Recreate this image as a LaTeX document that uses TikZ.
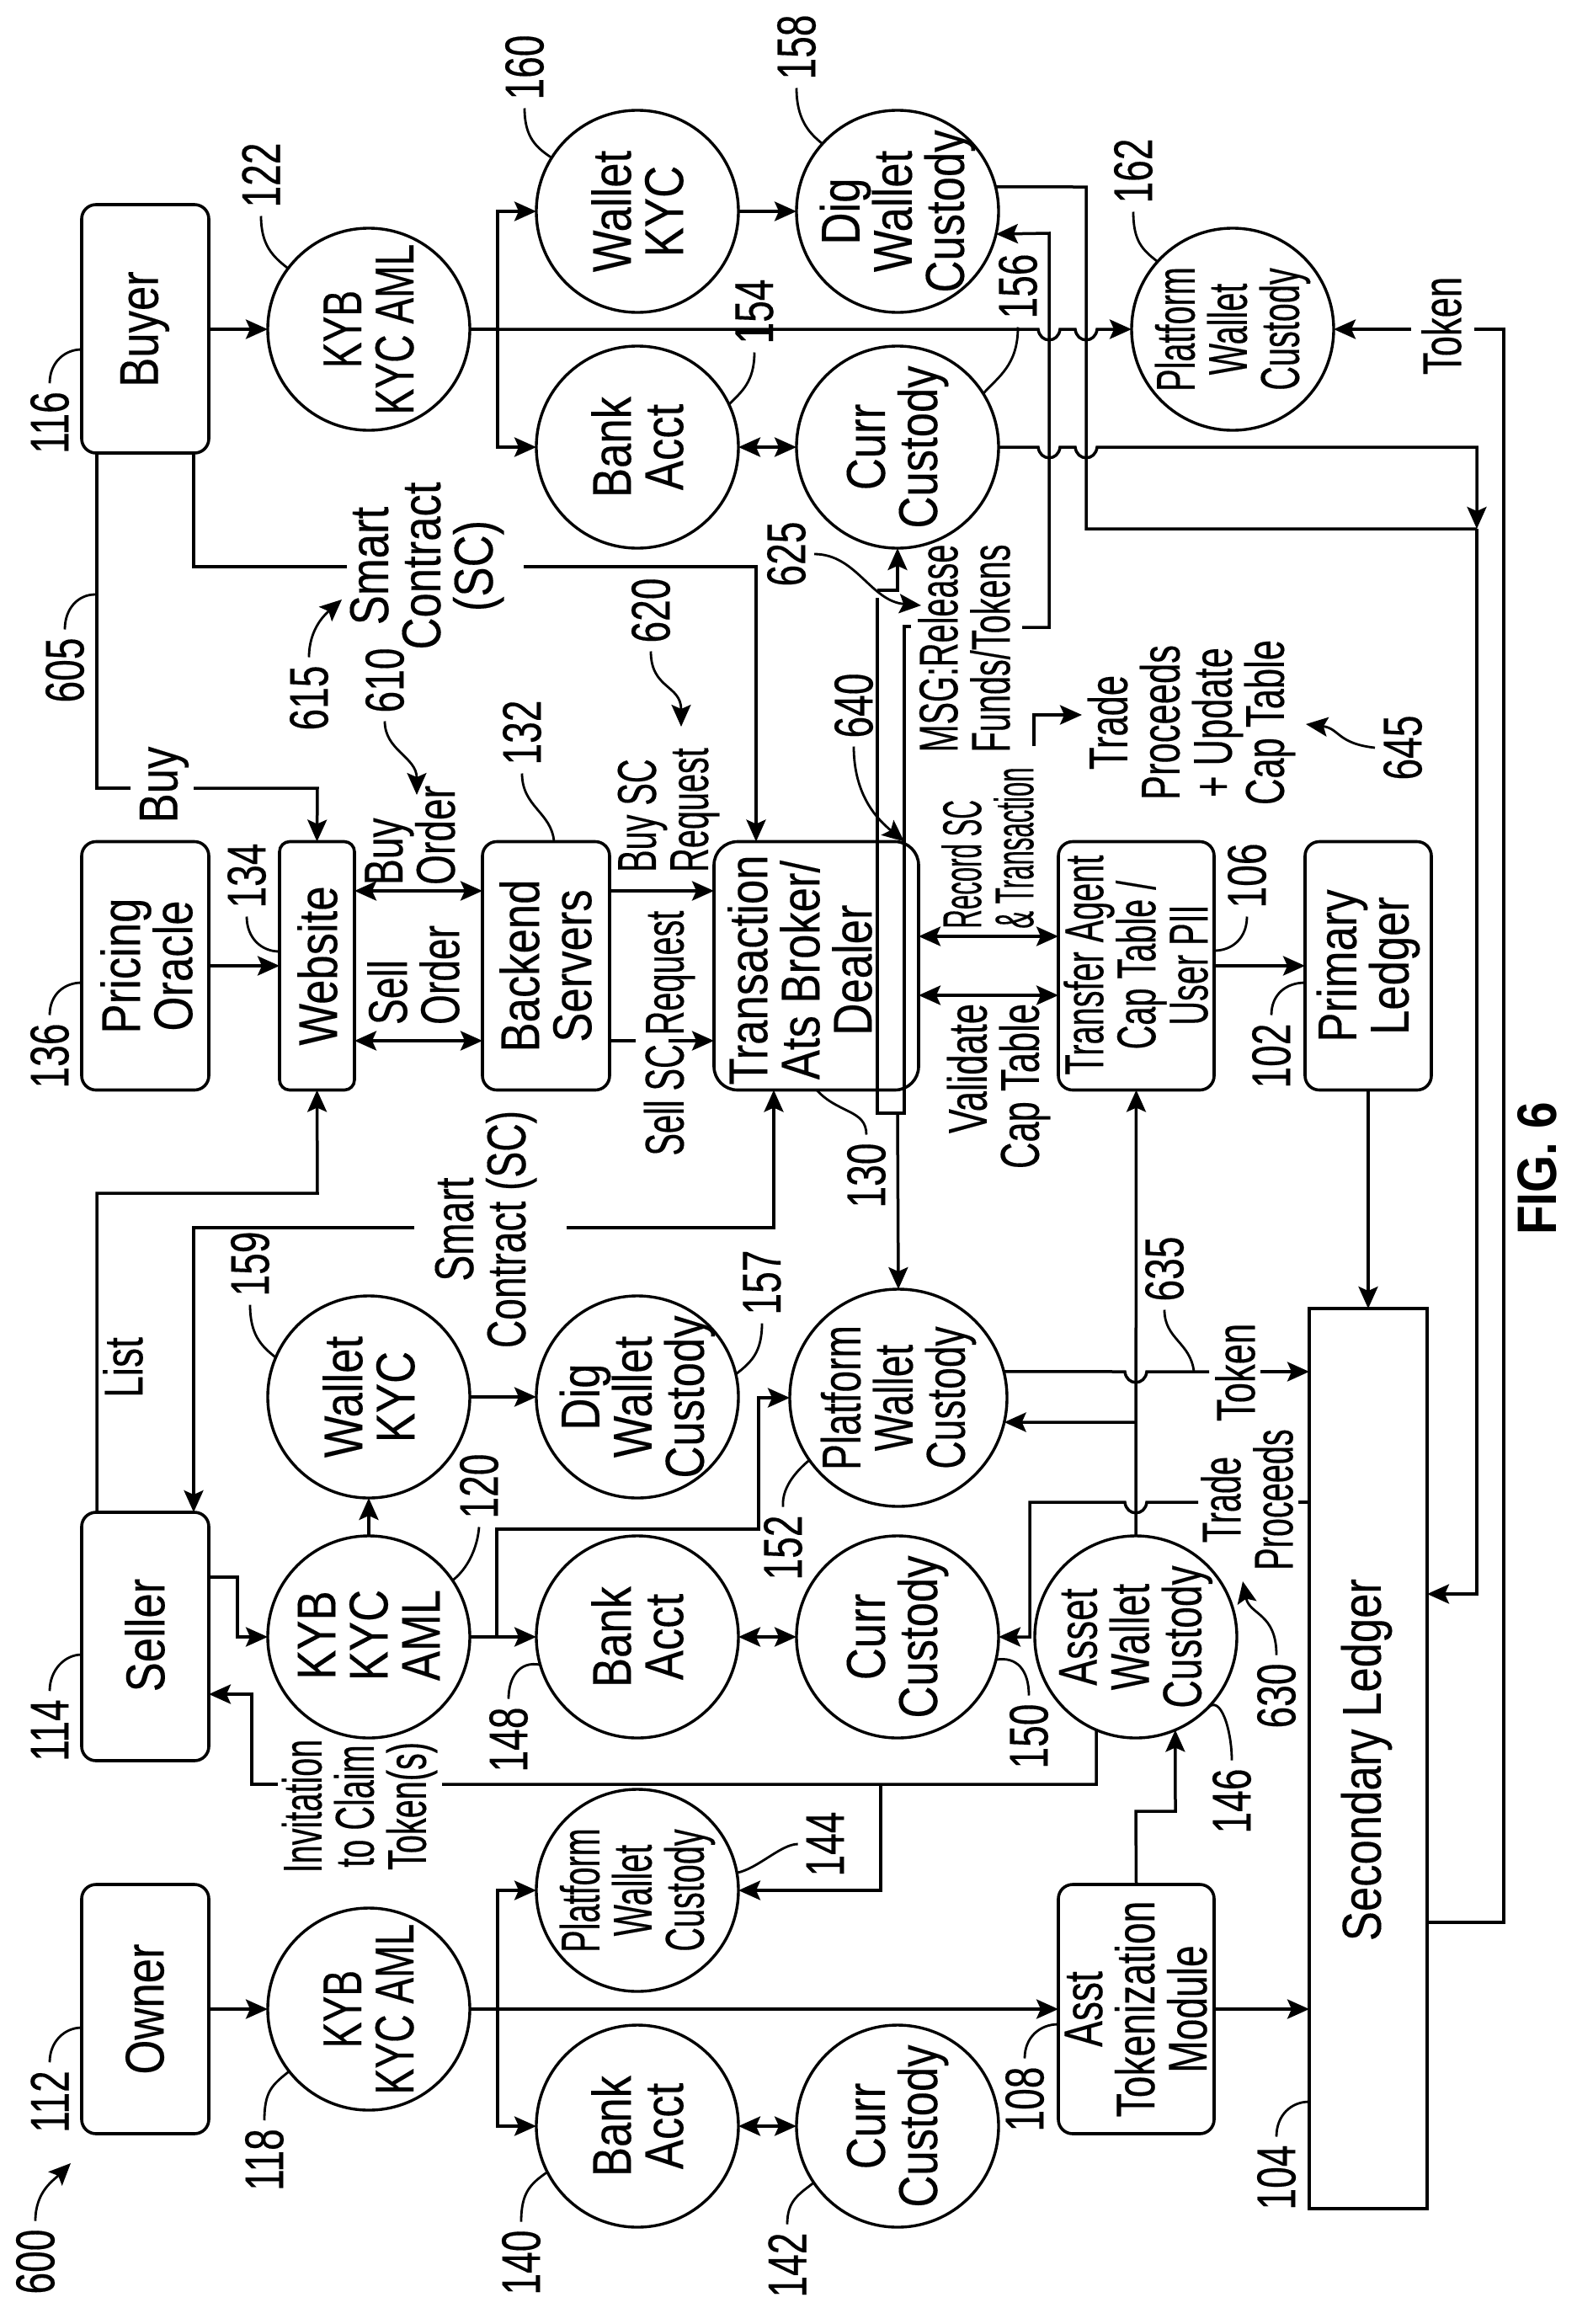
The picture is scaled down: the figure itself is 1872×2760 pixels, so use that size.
\documentclass[tikz,border=0pt]{standalone}
\usepackage{fontspec}
\usetikzlibrary{arrows.meta}
\setmainfont{Liberation Sans}
\newfontfamily\Fa[FakeStretch=0.81,FakeBold=0.25]{Liberation Sans}
\newfontfamily\Fb[FakeStretch=0.71,FakeBold=0.25]{Liberation Sans}
\newfontfamily\Fe[FakeStretch=0.67,FakeBold=0.25]{Liberation Sans}
\newfontfamily\Fc[FakeStretch=0.61,FakeBold=0.25]{Liberation Sans}
\newfontfamily\Fd[FakeStretch=0.48,FakeBold=0.25]{Liberation Sans}
\newfontfamily\Ff[FakeStretch=0.86]{Liberation Sans}
\newcommand{\jr}[2]{-- ({#1-13},#2) .. controls ({#1-11},{#2+17}) and ({#1+11},{#2+17}) .. ({#1+13},#2)}
\newcommand{\jl}[2]{-- ({#1+13},#2) .. controls ({#1+11},{#2+17}) and ({#1-11},{#2+17}) .. ({#1-13},#2)}
\tikzset{
  x=1pt,y=-1pt,
  lnk/.style={line width=3.5pt,line join=miter},
  arr/.style={lnk,-{Stealth[length=26pt,width=23pt,inset=5pt]}},
  darr/.style={lnk,{Stealth[length=26pt,width=23pt,inset=5pt]}-{Stealth[length=26pt,width=23pt,inset=5pt]}},
  lead/.style={line width=2.8pt},
  leadarr/.style={line width=2.8pt,-{Stealth[length=26pt,width=23pt,inset=5pt]}},
  circ/.style={draw,circle,line width=3.4pt,minimum size=240pt,inner sep=0pt,outer sep=0pt},
  rbox/.style={draw,rounded corners=17pt,line width=3.6pt,inner sep=0pt,outer sep=0pt},
  sbox/.style={draw,line width=3.6pt,inner sep=0pt,outer sep=0pt},
  txt/.style={rotate=90,align=center,inner sep=0pt,outer sep=0pt},
  ta/.style={txt,font={\Fa\fontsize{65}{62}\selectfont}},
  tb/.style={txt,font={\Fb\fontsize{65}{62}\selectfont}},
  te/.style={txt,font={\Fe\fontsize{65}{62}\selectfont}},
  tc/.style={txt,font={\Fc\fontsize{65}{62}\selectfont}},
  td/.style={txt,font={\Fd\fontsize{65}{62}\selectfont}},
  num/.style={rotate=90,inner sep=10pt,outer sep=0pt,font={\Fb\fontsize{65}{62}\selectfont}},
}
\begin{document}
\begin{tikzpicture}
\useasboundingbox (0,0) rectangle (1872,2760);
\fill[white] (0,0) rectangle (1872,2760);
% boxes
\node[rbox,minimum width=151pt,minimum height=295pt] (buy) at (172.5,390.5) {};
\node[rbox,minimum width=151pt,minimum height=295pt] (prc) at (172.5,1147) {};
\node[rbox,minimum width=151pt,minimum height=295pt] (sel) at (172.5,1943.5) {};
\node[rbox,minimum width=151pt,minimum height=296pt] (own) at (172.5,2386) {};
\node[rbox,rounded corners=12pt,minimum width=89pt,minimum height=295pt] (web) at (376.5,1147) {};
\node[rbox,minimum width=151pt,minimum height=295pt] (be) at (648.5,1147) {};
\node[rbox,rounded corners=28pt,minimum width=243pt,minimum height=295pt] (tx) at (969.5,1147) {};
\node[rbox,minimum width=185pt,minimum height=295pt] (ta) at (1349.5,1147) {};
\node[rbox,minimum width=150pt,minimum height=295pt] (pl) at (1625,1147) {};
\node[rbox,minimum width=185pt,minimum height=296pt] (at) at (1349.5,2386) {};
\node[sbox,minimum width=140pt,minimum height=1069pt] (sec) at (1625,2088.5) {};
% circles
\node[circ] (k122) at (438,391) {};
\node[circ] (w160) at (757,251) {};
\node[circ] (b154) at (757,531) {};
\node[circ] (d158) at (1066,251) {};
\node[circ] (c156) at (1066,531) {};
\node[circ] (p162) at (1464,391) {};
\node[circ] (w159) at (438,1659) {};
\node[circ] (d157) at (757,1659) {};
\node[circ,minimum size=258pt] (p152) at (1067,1660) {};
\node[circ] (k120) at (438,1944) {};
\node[circ] (b148) at (757,1944) {};
\node[circ] (c150) at (1066,1944) {};
\node[circ] (a146) at (1349,1944) {};
\node[circ] (k118) at (438,2386) {};
\node[circ] (p144) at (757,2245) {};
\node[circ] (b140) at (757,2525) {};
\node[circ] (c142) at (1066,2525) {};
% node texts
\node[ta] (tbuy) at (172,391) {Buyer};
\node[ta] (tprc) at (174,1147) {Pricing\\Oracle};
\node[ta] (tsel) at (172,1942) {Seller};
\node[ta] (town) at (172,2386) {Owner};
\node[ta] (tweb) at (377,1147) {Website};
\node[ta] (tbe) at (648,1147) {Backend\\Servers};
\node[ta] (ttx) at (950,1152) {Transaction\\Ats Broker/\\Dealer};
\node[tc] (tta) at (1349,1146) {Transfer Agent\\Cap Table /\\User PII};
\node[ta] (tpl) at (1625,1147) {Primary\\Ledger};
\node[tb] (tat) at (1349,2386) {Asst\\Tokenization\\Module};
\node[ta] (tsec) at (1623,2090) {Secondary Ledger};
\node[tb] (t122) at (438,391) {KYB\\KYC AML};
\node[ta] (t160) at (757,251) {Wallet\\KYC};
\node[ta] (t154) at (757,531) {Bank\\Acct};
\node[ta] (t158) at (1066,251) {Dig\\Wallet\\Custody};
\node[ta] (t156) at (1066,531) {Curr\\Custody};
\node[tc] (t162) at (1464,391) {Platform\\Wallet\\Custody};
\node[ta] (t159) at (438,1659) {Wallet\\KYC};
\node[ta] (t157) at (757,1659) {Dig\\Wallet\\Custody};
\node[tb] (t152) at (1067,1660) {Platform\\Wallet\\Custody};
\node[ta] (t120) at (438,1942) {KYB\\KYC\\AML};
\node[ta] (t148) at (757,1944) {Bank\\Acct};
\node[ta] (t150) at (1066,1944) {Curr\\Custody};
\node[tb] (t146) at (1349,1944) {Asset\\Wallet\\Custody};
\node[tb] (t118) at (438,2386) {KYB\\KYC AML};
\node[tc] (t144) at (757,2245) {Platform\\Wallet\\Custody};
\node[ta] (t140) at (757,2525) {Bank\\Acct};
\node[ta] (t142) at (1066,2525) {Curr\\Custody};
% connector labels
\node[ta] (lsc1) at (507,672) {Smart\\Contract\\(SC)};
\node[ta] (lbuy) at (195,932) {Buy};
\node[tb,align=left] (lbo) at (487,992) {Buy\\Order};
\node[tb,align=left] (lso) at (491,1158) {Sell\\Order};
\node[tc,align=left] (lbsr) at (794,962) {Buy SC\\Request};
\node[tc] (lssr) at (795,1227) {Sell SC Request};
\node[tb] (lsc2) at (577,1460) {Smart\\Contract (SC)};
\node[tb] (llist) at (146,1624) {List};
\node[tc] (linv) at (427,2145) {Invitation\\to Claim\\Token(s)};
\node[td,align=left] (lrec) at (1173,1007) {Record SC\\\& Transaction};
\node[te,align=right] (lval) at (1186,1290) {Validate\\Cap Table};
\node[tc] (lmsg) at (1145,770) {MSG:Release\\Funds/Tokens};
\node[te] (ltpu) at (1415,858) {Trade\\Proceeds\\+ Update\\Cap Table};
\node[te] (ltok1) at (1712,387) {Token};
\node[te] (ltok2) at (1467,1630) {Token};
\node[tc] (ltp) at (1481,1781) {Trade\\Proceeds};
\node[rotate=90,inner sep=0pt,font={\Ff\bfseries\fontsize{66}{63}\selectfont}] (fig) at (1826,1388) {FIG. 6};
% reference numbers
\node[num] (n600) at (42,2686) {600};
\node[num] (n112) at (59,2496) {112};
\node[num] (n118) at (314,2565) {118};
\node[num] (n114) at (59,2055) {114};
\node[num] (n148) at (604,2066) {148};
\node[num] (n140) at (619,2687) {140};
\node[num] (n142) at (935,2690) {142};
\node[num] (n144) at (980,2190) {144};
\node[num] (n150) at (1222,2062) {150};
\node[num] (n146) at (1463,2139) {146};
\node[num] (n630) at (1516,2014) {630};
\node[num] (n108) at (1217,2493) {108};
\node[num] (n104) at (1516,2586) {104};
\node[num] (n130) at (1029,1396) {130};
\node[num] (n635) at (1383,1507) {635};
\node[num] (n102) at (1510,1254) {102};
\node[num] (n106) at (1481,1040) {106};
\node[num] (n645) at (1666,888) {645};
\node[num] (n640) at (1014,838) {640};
\node[num] (n625) at (934,658) {625};
\node[num] (n620) at (773,725) {620};
\node[num] (n615) at (367,829) {615};
\node[num] (n610) at (457,808) {610};
\node[num] (n605) at (77,796) {605};
\node[num] (n116) at (59,502) {116};
\node[num] (n122) at (310,208) {122};
\node[num] (n160) at (623,80) {160};
\node[num] (n154) at (896,370) {154};
\node[num] (n158) at (946,56) {158};
\node[num] (n156) at (1209,340) {156};
\node[num] (n162) at (1346,203) {162};
\node[num] (n136) at (59,1254) {136};
\node[num] (n134) at (293,1040) {134};
\node[num] (n132) at (620,870) {132};
\node[num] (n159) at (297,1501) {159};
\node[num] (n157) at (905,1523) {157};
\node[num] (n120) at (569,1765) {120};
\node[num] (n152) at (930,1838) {152};
% named junctions and free ends
\coordinate (j122) at (591,391);
\coordinate (j118) at (591,2386);
\coordinate (j120) at (590,1944);
\coordinate (jled) at (1754,628);
\coordinate (j635) at (1349,1689);
\coordinate (jinv) at (1046,2119);
\coordinate (f600) at (84,2569);
\coordinate (f605) at (113,706);
\coordinate (f615) at (406,712);
\coordinate (f610) at (495,944);
\coordinate (f620) at (809,863);
\coordinate (f625) at (1094,719);
\coordinate (f630) at (1476,1878);
\coordinate (f635) at (1418,1629);
\coordinate (f645) at (1551,860);
\coordinate (ftr) at (1228,886);
\coordinate (fmsg) at (1214,745);
\coordinate (ftop) at (1042,701);
\coordinate (fbot) at (1066,1322);
% buyer side
\draw[arr] (buy.east |- k122.west) -- (k122.west);
\draw[lnk] (k122.east) -- (j122);
\draw[arr] (j122) -- (591,251) -- (w160.west);
\draw[arr] (j122) -- (591,531) -- (b154.west);
\draw[arr] (w160.east) -- (d158.west);
\draw[darr] (b154.east) -- (c156.west);
\draw[arr] (j122) \jr{1246}{391} \jr{1290}{391} -- (p162.west);
\draw[arr] (c156.east) \jr{1246}{531} \jr{1290}{531} -- (1754,531) -- (jled);
\draw[lnk] (d158.14) -- (1290,222) -- (1290,628) -- (jled);
\draw[arr] (jled) -- (1754,1893) -- (sec.east |- 0,1893);
\draw[arr] (fmsg) -- (1246,745) -- (1246,277) -- (d158.-13);
\draw[lnk] (1082,744) -- (1074,744) -- (1074,1322) -- (1042,1322) -- (1042,710);
\draw[arr] (ftop) -- (1066,701) -- (c156.south);
\draw[arr] (fbot) -- (p152.north);
\draw[lnk] (sec.east |- 0,2283) -- (1786,2283) -- (1786,391) -- (1751,391);
\draw[arr] (1676,391) -- (p162.east);
\draw[lnk] (buy.south -| 115,0) -- (115,936) -- (155,936);
\draw[arr] (230,936) -- (377,936) -- (web.north);
\draw[lnk] (buy.south -| 230,0) -- (230,673) -- (412,673);
\draw[arr] (622,673) -- (898,673) -- (tx.north -| 898,0);
\draw[arr] (prc.east) -- (web.west);
\draw[darr] (web.east |- 0,1058) -- (be.west |- 0,1058);
\draw[darr] (web.east |- 0,1236) -- (be.west |- 0,1236);
\draw[arr] (be.east |- 0,1058) -- (tx.west |- 0,1058);
\draw[lnk] (be.east |- 0,1236) -- (755,1236);
\draw[arr] (794,1236) -- (tx.west |- 0,1236);
\draw[darr] (tx.east |- 0,1112) -- (ta.west |- 0,1112);
\draw[darr] (tx.east |- 0,1182) -- (ta.west |- 0,1182);
\draw[arr] (ta.east) -- (pl.west);
\draw[arr] (pl.south) -- (sec.north -| pl.south);
\draw[arr] (ftr) -- (1228,849) -- (1285,849);
% seller side
\draw[arr] (sel.north -| 115,0) -- (115,1417) -- (377,1417) -- (web.south);
\draw[arr] (673,1458) -- (919,1458) -- (tx.south -| 919,0);
\draw[arr] (492,1458) -- (230,1458) -- (sel.north -| 230,0);
\draw[arr] (k120.north) -- (w159.south);
\draw[arr] (w159.east) -- (d157.west);
\draw[arr] (sel.east |- 0,1873) -- (282,1873) -- (282,1944) -- (k120.west);
\draw[arr] (k120.east) -- (b148.west);
\draw[arr] (j120) -- (590,1816) -- (901,1816) -- (901,1660) -- (p152.west);
\draw[darr] (b148.east) -- (c150.west);
\draw[arr] (a146.north) -- (ta.south);
\draw[arr] (j635) -- (p152.-13);
\draw[lnk] (p152.14) \jr{1349}{1629} -- (1436,1629);
\draw[arr] (1497,1629) -- (sec.west |- 0,1629);
\draw[lnk] (sec.west |- 0,1784) -- (1542,1784);
\draw[arr] (1423,1784) \jl{1349}{1784} -- (1223,1784) -- (1223,1944) -- (c150.east);
\draw[lnk] (a146.-113) -- (1302,2119) -- (525,2119);
\draw[arr] (330,2119) -- (299,2119) -- (299,2012) -- (sel.east |- 0,2012);
\draw[arr] (jinv) -- (1046,2245) -- (p144.east);
% owner side
\draw[arr] (own.east) -- (k118.west);
\draw[arr] (k118.east) -- (at.west);
\draw[arr] (j118) -- (591,2245) -- (p144.west);
\draw[arr] (j118) -- (591,2525) -- (b140.west);
\draw[darr] (b140.east) -- (c142.west);
\draw[arr] (at.east) -- (sec.west |- at.east);
\draw[arr] (at.north) -- (1349,2151) -- (1396,2151) -- (a146.-67);
% leaders
\draw[leadarr] (n600.east) .. controls +(0,-35) and +(-20,20) .. (f600);
\draw[lead] (n112.east) .. controls +(0,-25) and +(-20,0) .. (own.west |- 0,2408);
\draw[lead] (n114.east) .. controls +(0,-25) and +(-20,0) .. (sel.west |- 0,1965);
\draw[lead] (n116.east) .. controls +(0,-25) and +(-20,0) .. (buy.west |- 0,415);
\draw[lead] (n136.east) .. controls +(0,-25) and +(-20,0) .. (prc.west |- 0,1167);
\draw[lead] (n605.east) .. controls +(0,-25) and +(-20,0) .. (f605);
\draw[lead] (n122.west) .. controls +(0,35) and +(-18,-14) .. (k122.143);
\draw[lead] (n160.west) .. controls +(0,35) and +(-18,-12) .. (w160.148);
\draw[lead] (n154.west) .. controls +(0,35) and +(15,-15) .. (b154.25);
\draw[lead] (n158.west) .. controls +(0,35) and +(-18,-14) .. (d158.138);
\draw[lead] (n156.west) .. controls +(0,45) and +(18,-20) .. (c156.32);
\draw[lead] (n162.west) .. controls +(0,35) and +(-18,-14) .. (p162.138);
\draw[lead] (n134.west) .. controls +(0,25) and +(-22,0) .. (web.west |- 0,1130);
\draw[lead] (n132.west) .. controls +(0,40) and +(-3,-35) .. (be.north -| 658,0);
\draw[lead] (n159.west) .. controls +(0,35) and +(-18,-14) .. (w159.157);
\draw[lead] (n157.west) .. controls +(0,35) and +(18,-14) .. (d157.13);
\draw[lead] (n120.west) .. controls +(-2,25) and +(18,-14) .. (k120.34);
\draw[lead] (n152.east) .. controls +(-2,-25) and +(-12,10) .. (p152.215);
\draw[lead] (n118.east) .. controls +(0,-35) and +(-20,16) .. (k118.218);
\draw[lead] (n148.east) .. controls +(0,-25) and +(-25,-5) .. (b148.196);
\draw[lead] (n140.east) .. controls +(0,-35) and +(-20,14) .. (b140.207);
\draw[lead] (n142.east) .. controls +(0,-28) and +(-18,14) .. (c142.214);
\draw[lead] (n144.north) .. controls +(-20,0) and +(25,-5) .. (p144.10);
\draw[lead] (n150.east) .. controls +(0,-30) and +(25,-4) .. (c150.-13);
\draw[lead] (n146.east) .. controls +(0,-35) and +(16,-18) .. (a146.-45);
\draw[lead] (n108.east) .. controls +(0,-25) and +(-22,0) .. (at.west |- 0,2404);
\draw[lead] (n104.east) .. controls +(0,-25) and +(-22,0) .. (sec.west |- 0,2496);
\draw[lead] (n130.east) .. controls +(0,-30) and +(25,28) .. (tx.south -| 970,0);
\draw[lead] (n635.west) .. controls +(0,35) and +(-4,-35) .. (f635);
\draw[lead] (n102.east) .. controls +(0,-25) and +(-22,0) .. (pl.west |- 0,1167);
\draw[lead] (n106.west) .. controls +(0,25) and +(22,0) .. (ta.east |- 0,1129);
\draw[leadarr] (n645.north) .. controls +(-45,-5) and +(40,5) .. (f645);
\draw[leadarr] (n640.west) .. controls +(0,60) and +(-30,-25) .. (tx.north -| 1074,0);
\draw[leadarr] (n625.south) .. controls +(50,0) and +(-60,-5) .. (f625);
\draw[leadarr] (n620.west) .. controls +(0,45) and +(0,-50) .. (f620);
\draw[leadarr] (n615.east) .. controls +(0,-35) and +(-18,16) .. (f615);
\draw[leadarr] (n610.west) .. controls +(0,35) and +(0,-45) .. (f610);
\draw[leadarr] (n630.east) .. controls +(0,-50) and +(8,40) .. (f630);
\end{tikzpicture}
\end{document}
